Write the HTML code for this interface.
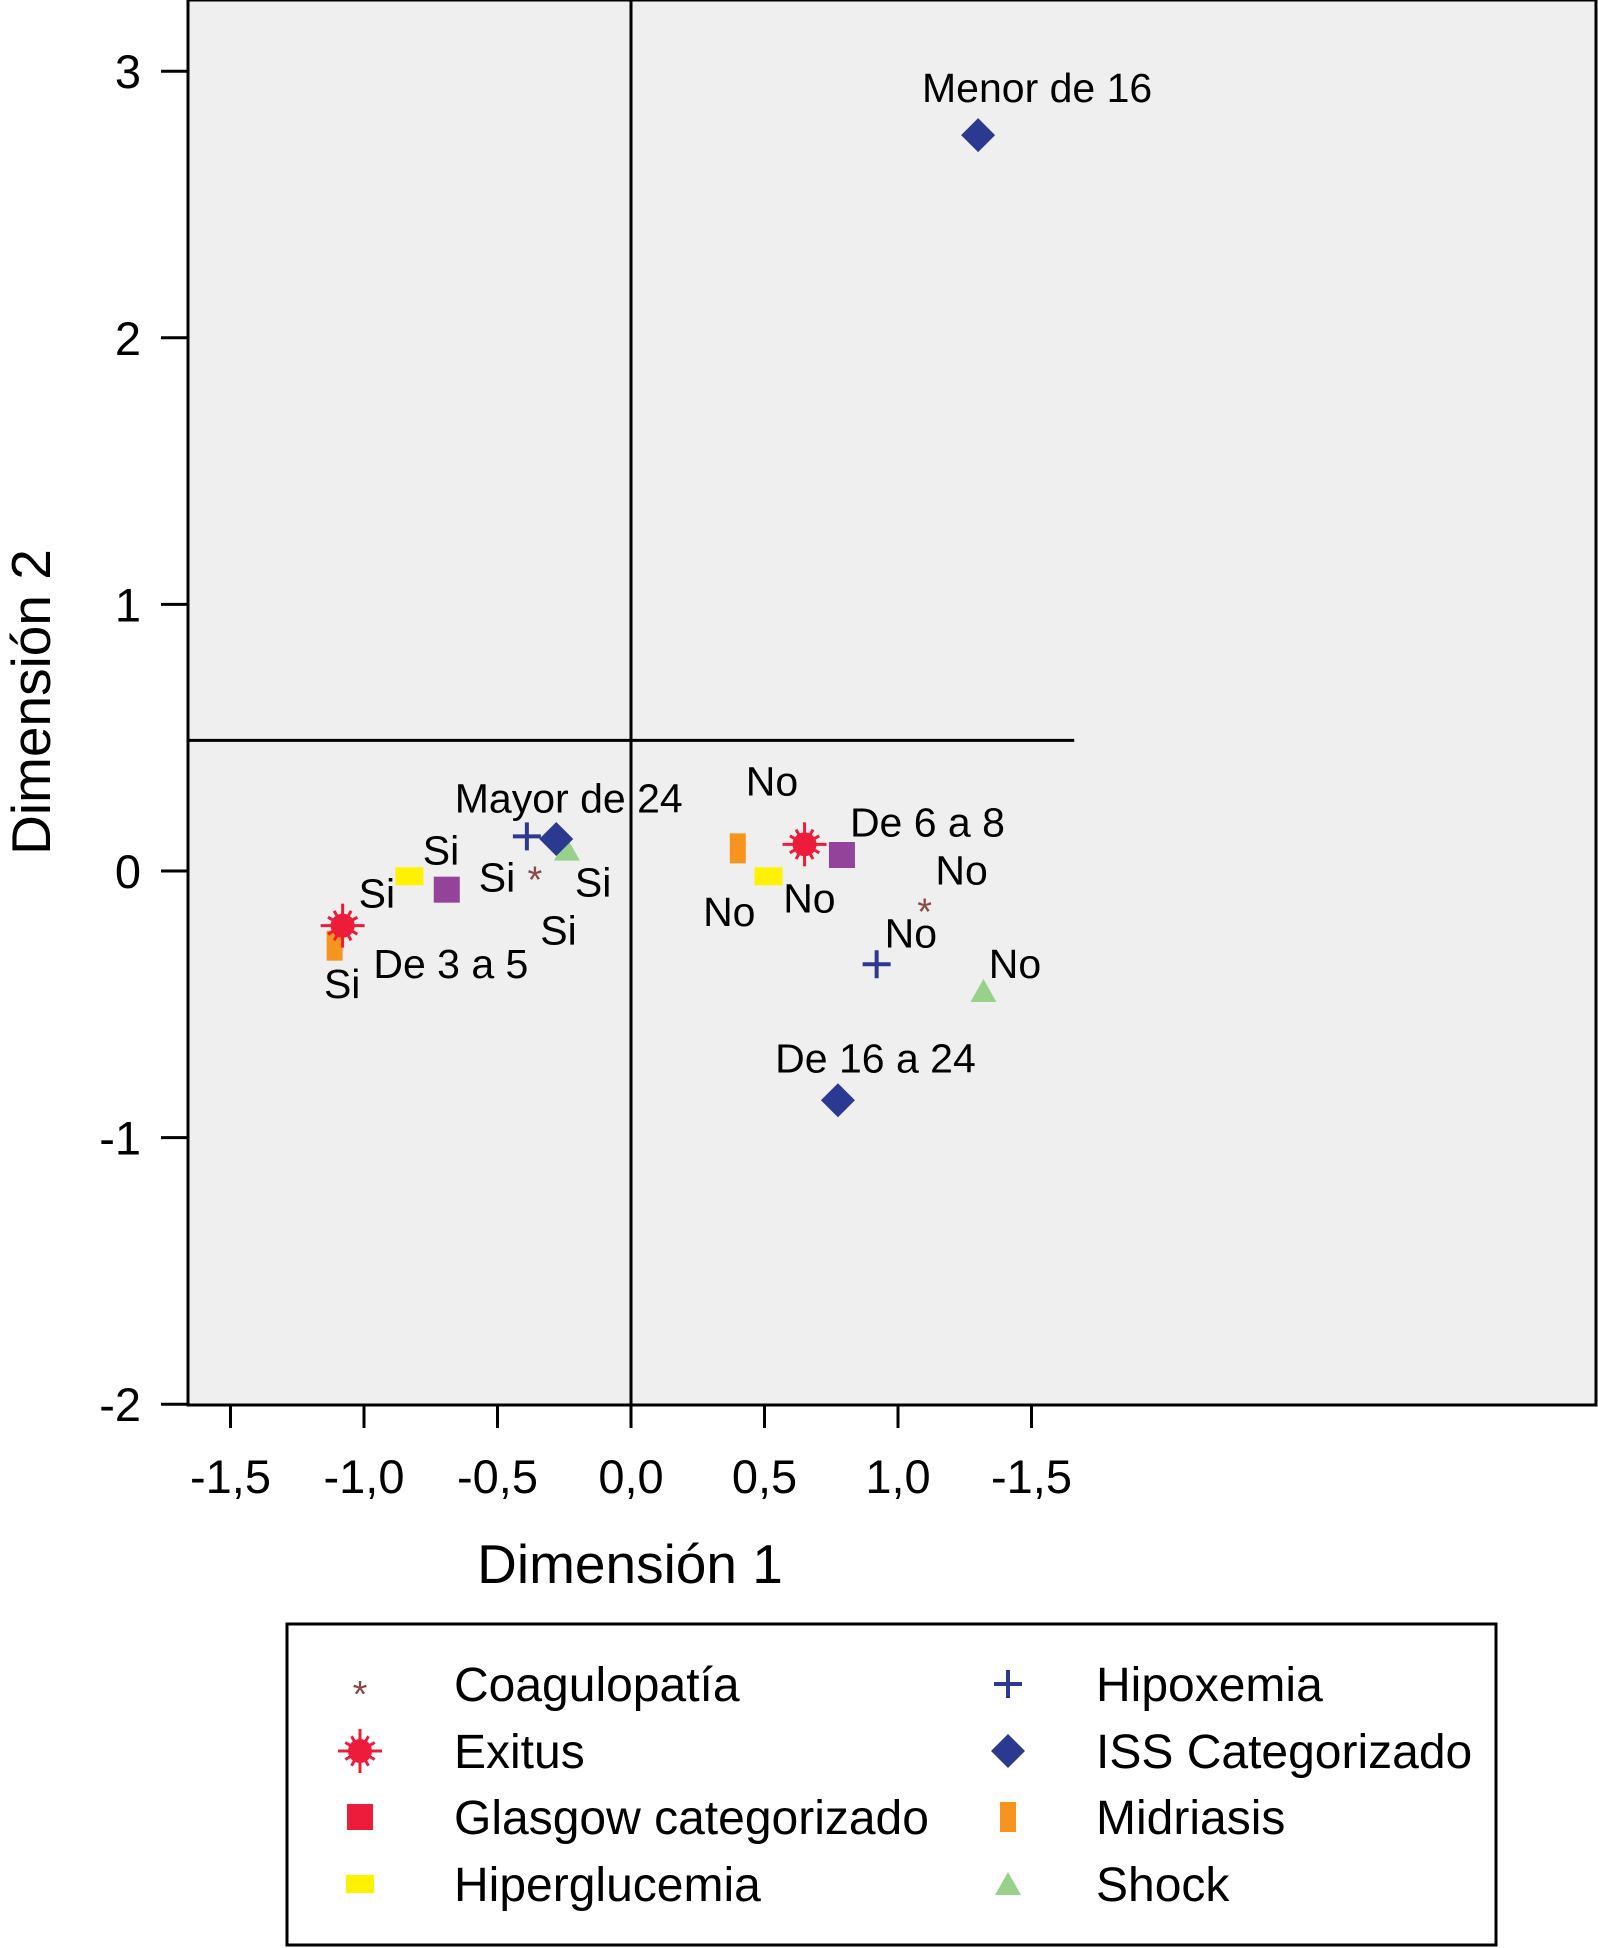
<!DOCTYPE html>
<html><head><meta charset="utf-8"><style>
html,body{margin:0;padding:0;background:#fff;}
svg{display:block;font-family:"Liberation Sans",Arial,sans-serif;}
</style></head><body>
<svg id="chart" width="1598" height="1948" viewBox="0 0 1598 1948" xmlns="http://www.w3.org/2000/svg">
<rect x="188" y="0" width="1408" height="1405" fill="#efefef" stroke="#000" stroke-width="3"/>
<g id="axes"></g>
<g id="marks"></g>
<text x="630" y="1583" font-size="55" text-anchor="middle">Dimensión 1</text>
<text x="50" y="702" font-size="55" text-anchor="middle" transform="rotate(-90 50 702)">Dimensión 2</text>
<g id="legend">
<rect x="287" y="1624" width="1209" height="321" fill="#fff" stroke="#000" stroke-width="3"/>
</g>
</svg>
<script>
const xTicks=[-1.5,-1.0,-0.5,0.0,0.5,1.0,1.5];
const xTickLabels=["-1,5","-1,0","-0,5","0,0","0,5","1,0","-1,5"];
const yTicks=[3,2,1,0,-1,-2];
const yTickLabels=["3","2","1","0","-1","-2"];
const seriesNames=["Coagulopatía","Exitus","Glasgow categorizado","Hiperglucemia","Hipoxemia","ISS Categorizado","Midriasis","Shock"];
const coagX=[-0.36,1.10], coagY=[-0.01,-0.13];
const exitusX=[-1.08,0.65], exitusY=[-0.205,0.10];
const glasgowX=[-0.69,0.79], glasgowY=[-0.07,0.06];
const hiperX=[-0.83,0.515], hiperY=[-0.02,-0.02];
const hipoxX=[-0.39,0.92], hipoxY=[0.13,-0.35];
const issX=[1.30,-0.28,0.775], issY=[2.76,0.12,-0.86];
const midX=[-1.11,0.40], midY=[-0.28,0.085];
const shockX=[-0.24,1.32], shockY=[0.08,-0.45];
const labelTexts=["Menor de 16","Mayor de 24","De 16 a 24","De 3 a 5","De 6 a 8","Si","Si","Si","Si","Si","Si","No","No","No","No","No","No"];
const labelX=[1.09,-0.66,0.54,-0.965,0.82,-0.78,-1.02,-0.57,-0.21,-0.34,-1.15,0.43,1.14,0.27,0.57,0.95,1.34];
const labelY=[2.94,0.275,-0.70,-0.345,0.185,0.08,-0.08,-0.02,-0.04,-0.22,-0.42,0.34,0.005,-0.15,-0.10,-0.23,-0.345];
const refH=0.49, refHEnd=1.66;

const NS="http://www.w3.org/2000/svg";
const sx=v=>631+v*267;
const sy=v=>871-v*266.6;
function mk(tag,attrs,parent){const e=document.createElementNS(NS,tag);for(const k in attrs)e.setAttribute(k,attrs[k]);parent.appendChild(e);return e;}
const axes=document.getElementById('axes'), marks=document.getElementById('marks'), legend=document.getElementById('legend');

xTicks.forEach((t,i)=>{
  const l=mk('line',{x1:sx(t),x2:sx(t),y1:1405,y2:1428,stroke:'#000','stroke-width':3},axes);
  
  
  const tx=mk('text',{x:sx(t),y:1493,'font-size':47,'text-anchor':'middle'},axes);
  tx.textContent=xTickLabels[i];
  
  
});
yTicks.forEach((t,i)=>{
  const l=mk('line',{x1:161,x2:188,y1:sy(t),y2:sy(t),stroke:'#000','stroke-width':3},axes);
  
  
  const tx=mk('text',{x:141,y:sy(t)+17,'font-size':47,'text-anchor':'end'},axes);
  tx.textContent=yTickLabels[i];
  
  
});
const vl=mk('line',{x1:sx(0),x2:sx(0),y1:0,y2:1405,stroke:'#000','stroke-width':3},axes);


const hl=mk('line',{x1:188,x2:sx(refHEnd),y1:sy(refH),y2:sy(refH),stroke:'#000','stroke-width':3},axes);



function drawMarker(type,cx,cy,parent,name){
  const g=mk('g',{},parent);
  
  
  if(type==='coag'){const t=mk('text',{x:cx,y:cy+19,'font-size':38,'text-anchor':'middle',fill:'#8b4a44'},g);t.textContent='*';}
  else if(type==='exitus'){
    mk('circle',{cx:cx,cy:cy,r:12,fill:'#ed1c3a'},g);
    for(let a=0;a<12;a++){const an=a*Math.PI/6;const r=a%3===0?22:17;mk('line',{x1:cx,y1:cy,x2:cx+r*Math.cos(an),y2:cy+r*Math.sin(an),stroke:'#ed1c3a','stroke-width':3},g);}
  }
  else if(type==='glasgow'){mk('rect',{x:cx-13,y:cy-13,width:26,height:26,fill:'#93449a'},g);}
  else if(type==='hiper'){mk('rect',{x:cx-14,y:cy-9,width:28,height:18,fill:'#fff200'},g);}
  else if(type==='hipox'){mk('path',{d:`M${cx-14} ${cy}H${cx+14}M${cx} ${cy-14}V${cy+14}`,stroke:'#2b3990','stroke-width':4},g);}
  else if(type==='iss'){mk('path',{d:`M${cx} ${cy-17}L${cx+17} ${cy}L${cx} ${cy+17}L${cx-17} ${cy}Z`,fill:'#2b3990'},g);}
  else if(type==='mid'){mk('rect',{x:cx-8,y:cy-15,width:16,height:30,fill:'#f7941d'},g);}
  else if(type==='shock'){mk('path',{d:`M${cx} ${cy-12}L${cx+13} ${cy+11}L${cx-13} ${cy+11}Z`,fill:'#98d08c'},g);}
  return g;
}
function drawSeries(type,xs,ys,name){xs.forEach((x,i)=>drawMarker(type,sx(x),sy(ys[i]),marks,name));}
drawSeries('glasgow',glasgowX,glasgowY,'glasgow-point');
drawSeries('hiper',hiperX,hiperY,'hiperglucemia-point');
drawSeries('mid',midX,midY,'midriasis-point');
drawSeries('exitus',exitusX,exitusY,'exitus-point');
drawSeries('shock',shockX,shockY,'shock-point');
drawSeries('iss',issX,issY,'iss-point');
drawSeries('hipox',hipoxX,hipoxY,'hipoxemia-point');
drawSeries('coag',coagX,coagY,'coagulopatia-point');

labelTexts.forEach((s,i)=>{
  const t=mk('text',{x:sx(labelX[i]),y:sy(labelY[i])+15,'font-size':41},marks);
  t.textContent=s;
  
  
});

const legTypes=['coag','exitus','glasgowL','hiper','hipox','iss','mid','shock'];
const rowY=[1684,1751,1817,1884];
seriesNames.forEach((n,i)=>{
  const col=i<4?0:1, row=i%4;
  const mx=col?1008:360, tx=col?1096:454, y=rowY[row];
  let g;
  if(legTypes[i]==='glasgowL'){g=mk('g',{},legend);mk('rect',{x:mx-13,y:y-13,width:26,height:26,fill:'#ed1c3a'},g);}
  else g=drawMarker(legTypes[i],mx,legTypes[i]==='coag'?y+4:y,legend,'legend-marker');
  const t=mk('text',{x:tx,y:y+17,'font-size':48},legend);
  t.textContent=n;
  
  
});
</script>
</body></html>
